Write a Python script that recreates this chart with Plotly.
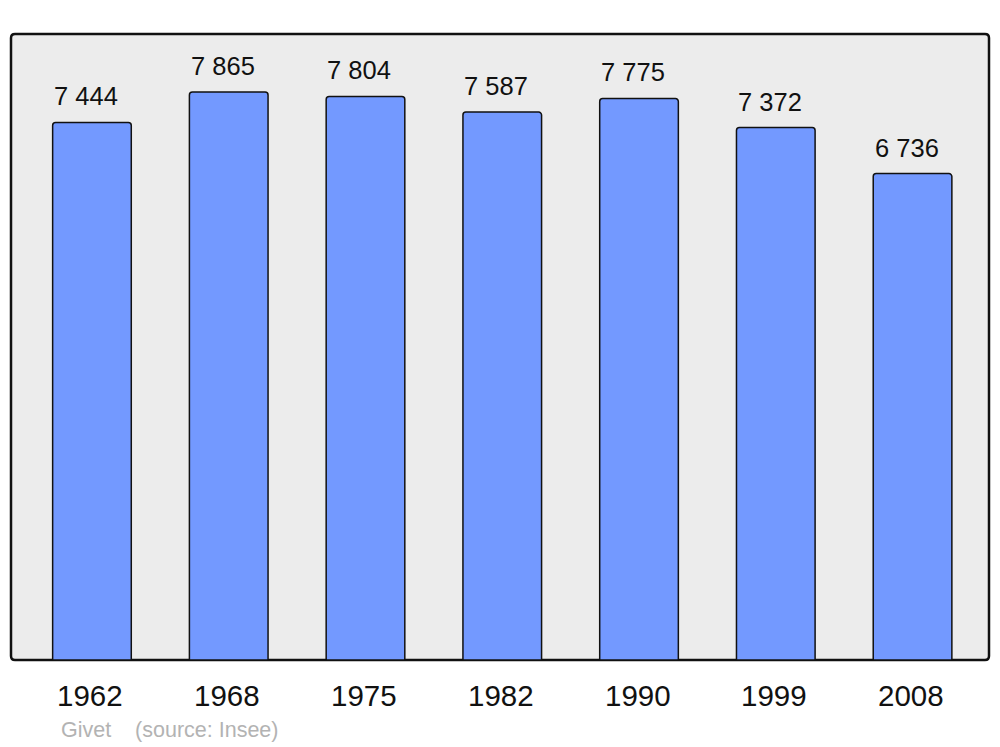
import plotly.graph_objects as go

years = ["1962", "1968", "1975", "1982", "1990", "1999", "2008"]
population = [7444, 7865, 7804, 7587, 7775, 7372, 6736]
place = "Givet"
source = "(source: Insee)"

OFF = 8  # page body margin
W, H = 1000 - OFF, 747 - OFF
L, R, T, B = 11 - OFF, 989 - OFF, 34 - OFF, 660 - OFF
FONT = "Liberation Sans, Arial, sans-serif"

xs = list(range(len(years)))
labels = [f"{v:,}".replace(",", " ") for v in population]

fig = go.Figure()
fig.add_trace(go.Bar(
    x=xs, y=population, width=0.575,
    marker=dict(color="#7399ff", line=dict(color="#111111", width=1.5), cornerradius=3),
    hoverinfo="skip",
))

for x, v, t in zip(xs, population, labels):
    fig.add_annotation(x=x, y=v, xref="x", yref="y", text=t, showarrow=False,
                       yanchor="bottom", yshift=10, xshift=-6,
                       font=dict(family=FONT, size=25.5, color="#111111"))
for x, yr in zip(xs, years):
    fig.add_annotation(x=x, y=(H - (695 - OFF)) / H, xref="x", yref="paper", text=yr,
                       showarrow=False, yanchor="middle", xshift=-1.5,
                       font=dict(family=FONT, size=29.5, color="#111111"))

fig.add_annotation(x=(59 - OFF) / W, y=(H - (730 - OFF)) / H, xref="paper", yref="paper",
                   text=place + "\u00a0\u00a0\u00a0\u00a0" + source, showarrow=False,
                   xanchor="left", yanchor="middle",
                   font=dict(family=FONT, size=21.5, color="#b3b3b3"))

# rounded frame
def px(x): return x / W
def py(y): return (H - y) / H
r = 4
path = (f"M {px(L + r)},{py(T)} L {px(R - r)},{py(T)} Q {px(R)},{py(T)} {px(R)},{py(T + r)} "
        f"L {px(R)},{py(B - r)} Q {px(R)},{py(B)} {px(R - r)},{py(B)} "
        f"L {px(L + r)},{py(B)} Q {px(L)},{py(B)} {px(L)},{py(B - r)} "
        f"L {px(L)},{py(T + r)} Q {px(L)},{py(T)} {px(L + r)},{py(T)} Z")
fig.add_shape(type="path", path=path, xref="paper", yref="paper",
              fillcolor="#ececec", line=dict(color="#111111", width=2.5), layer="below")

fig.update_layout(
    width=W, height=H, margin=dict(l=0, r=0, t=0, b=0),
    paper_bgcolor="white", plot_bgcolor="rgba(0,0,0,0)",
    showlegend=False,
    xaxis=dict(domain=[L / W, R / W], range=[-0.592, 6.559], showgrid=False,
               zeroline=False, showticklabels=False, fixedrange=True),
    yaxis=dict(domain=[(H - B) / H, (H - T) / H], range=[0, 8668], showgrid=False,
               zeroline=False, showticklabels=False, fixedrange=True),
)

fig.write_html("out.html")
